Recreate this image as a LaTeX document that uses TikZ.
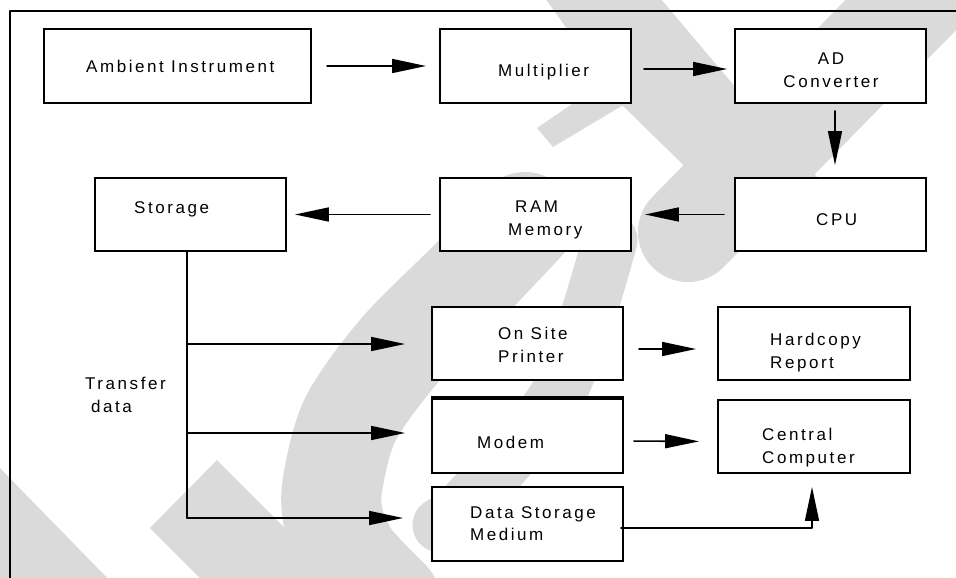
\documentclass[tikz,border=0pt]{standalone}
\usepackage{fontspec}
\usetikzlibrary{arrows.meta,calc}
\newfontfamily\lblfont{Liberation Sans}[LetterSpace=15]
\definecolor{wmgray}{RGB}{218,218,218}
\begin{document}
\begin{tikzpicture}[
	x=1pt,y=-1pt,
	>={Triangle[length=34pt,width=14pt]},
	line cap=round,
	line join=round,
	wm/.style={color=wmgray},
	blk/.style={draw,fill=white,line width=1.9pt,line join=miter,inner sep=0pt,minimum width=191pt,minimum height=73pt},
	lbl/.style={font=\lblfont\fontsize{17}{22.5}\selectfont,inner sep=0pt,anchor=north west,align=left},
	arr/.style={->,line width=1.6pt},
	wire/.style={line width=1.6pt}
	]
	\useasboundingbox (0,0) rectangle (956,578);
	\begin{scope}
		\clip (0,0) rectangle (956,578);
		\fill[wm] (545,-2) -- (660,-2) -- (780,140) -- (880,240) -- (760,240) -- (620,103) -- cycle;
		\fill[wm] (537,128) -- (553,147) -- (640,95) -- (600,85) -- cycle;
		\draw[wm,line width=100pt,line cap=round] (945,-30) -- (688,232);
		\draw[wm,line width=55pt,line cap=round] plot[smooth] coordinates {(610,240) (560,390) (470,500) (440,525)};
		\draw[wm,line width=100pt,line cap=round] plot[smooth] coordinates {(525,222) (470,280) (400,350) (350,420) (332,488) (335,525) (352,560) (390,600)};
		\fill[wm] (150,528) -- (217,460) -- (340,583) -- (205,583) -- cycle;
		\fill[wm] (-5,463) -- (117,588) -- (-5,588) -- cycle;
	\end{scope}
	\coordinate (fr1) at (956,11);
	\coordinate (fr2) at (10,11);
	\coordinate (fr3) at (10,578);
	\draw[line width=2pt,line cap=butt] (fr1) -- (fr2) -- (fr3);
	\node[blk,minimum width=267pt,minimum height=74pt] (amb) at (177.5,66) {};
	\node[blk,minimum height=74pt] (mul) at (535.5,66) {};
	\node[blk,minimum height=74pt] (adc) at (830.5,66) {};
	\node[blk] (stor) at (190.5,214.5) {};
	\node[blk] (ram) at (535.5,214.5) {};
	\node[blk] (cpu) at (830.5,214.5) {};
	\node[blk] (prn) at (527.5,343.5) {};
	\node[blk,minimum height=74pt] (mod) at (527.5,436) {};
	\node[blk,minimum height=74pt] (dsm) at (527.5,524) {};
	\node[blk,minimum width=192pt] (hcr) at (814,343.5) {};
	\node[blk,minimum width=192pt] (cc) at (814,436.5) {};
	\draw[line width=4pt,line cap=butt] (mod.north west) -- (mod.north east);
	\node[lbl] (ambt) at (86,60) {Ambient Instrument};
	\node[lbl] (mult) at (498,64) {Multiplier};
	\node[lbl,anchor=north,align=center] (adct) at (831,53) {AD\\Converter};
	\node[lbl] (stort) at (134,201) {Storage};
	\node[lbl] (ramt) at (508,201) {\hspace{7pt}RAM\\Memory};
	\node[lbl] (cput) at (816,213) {CPU};
	\node[lbl] (prnt) at (498,327) {On Site\\Printer};
	\node[lbl] (modt) at (477,436) {Modem};
	\node[lbl] (dsmt) at (470,506) {Data Storage\\Medium};
	\node[lbl] (hcrt) at (770,333) {Hardcopy\\Report};
	\node[lbl] (cct) at (762,428) {Central\\Computer};
	\node[lbl] (xfer) at (85,377) {Transfer\\\hspace{6pt}data};
	\coordinate (t1) at (187,344);
	\coordinate (t2) at (187,433);
	\coordinate (t3) at (187,518);
	\begin{scope}[arr]
		\draw[shorten <=15pt,shorten >=13pt] (amb) -- (mul);
		\draw[shorten <=12pt,shorten >=7pt] ([yshift=-3pt]mul.east) -- ([yshift=-3pt]adc.west);
		\draw[shorten <=7pt,shorten >=12pt] ([xshift=4.5pt]adc.south) -- ([xshift=4.5pt]cpu.north);
		\draw[shorten <=10pt,shorten >=13pt] (cpu) -- (ram);
		\draw[shorten <=9pt,shorten >=8pt] (ram) -- (stor);
		\draw[shorten >=26pt] (t1) -- (t1 -| prn.west);
		\draw[shorten >=26pt] (t2) -- (t2 -| mod.west);
		\draw[shorten >=28pt] (t3) -- (t3 -| dsm.west);
		\draw[shorten <=15pt,shorten >=21pt] ([yshift=-5.5pt]prn.east) -- ([yshift=-5.5pt]hcr.west);
		\draw[shorten <=10pt,shorten >=18pt] ([yshift=-5pt]mod.east) -- ([yshift=-5pt]cc.west);
		\draw[shorten >=13pt] ([xshift=-3pt,yshift=-4pt]dsm.east) -| ([xshift=-2pt]cc.south);
	\end{scope}
	\draw[wire] (t3 |- stor.south) -- (t3);
\end{tikzpicture}
\end{document}
